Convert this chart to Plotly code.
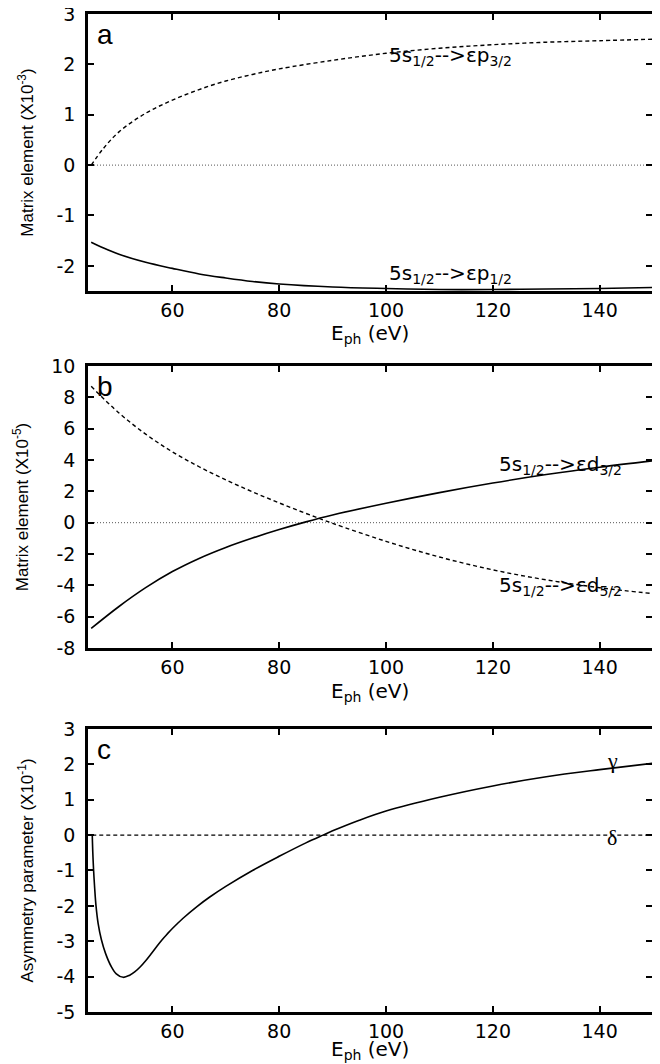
import plotly.graph_objects as go
from plotly.subplots import make_subplots

# ---------------- data ----------------
# Panel a: matrix elements (x10^-3)
a_x = [44.8, 47, 50, 55, 60, 65, 70, 75, 80, 90, 100, 110, 120, 130, 140, 150]
a_p32 = [0.0, 0.32, 0.66, 1.03, 1.29, 1.50, 1.67, 1.80, 1.91, 2.08, 2.22, 2.32, 2.39, 2.44, 2.47, 2.50]
a_p12 = [-1.53, -1.64, -1.77, -1.93, -2.05, -2.16, -2.24, -2.31, -2.36, -2.42, -2.45, -2.47, -2.47, -2.46, -2.45, -2.43]

# Panel b: matrix elements (x10^-5)
b_x = [44.8, 50, 55, 60, 65, 70, 75, 80, 85, 90, 100, 110, 120, 130, 140, 150]
b_d32 = [-6.75, -5.35, -4.15, -3.12, -2.28, -1.58, -0.98, -0.44, 0.05, 0.49, 1.24, 1.92, 2.53, 3.07, 3.54, 3.95]
b_d52 = [8.7, 7.0, 5.65, 4.52, 3.57, 2.73, 1.97, 1.26, 0.59, -0.04, -1.19, -2.19, -3.01, -3.65, -4.15, -4.53]

# Panel c: asymmetry parameters (x10^-1)
c_x = [45.0, 45.1, 45.25, 45.45, 45.7, 46.1, 46.7, 47.5, 48.5, 49.5, 50.8, 52, 53, 54, 55, 56, 57, 58, 59,
       60, 62, 64.6, 67, 70, 75, 80, 85, 88.2, 90, 95, 100, 110, 120, 130, 140, 150]
c_gamma = [0.0, -0.5, -1.0, -1.5, -2.0, -2.5, -2.95, -3.35, -3.7, -3.92, -4.02, -3.96, -3.86, -3.72, -3.55, -3.36, -3.16, -2.97, -2.8,
           -2.64, -2.35, -2.02, -1.75, -1.45, -1.0, -0.6, -0.22, 0.0, 0.12, 0.42, 0.68, 1.07, 1.39, 1.65, 1.85, 2.03]
c_delta_x = [45.0, 60, 80, 100, 120, 140, 150]
c_delta = [0.0, 0.0, 0.0, 0.0, 0.0, 0.0, 0.0]

zero_x = [44.2, 150]
zero_y = [0, 0]

x_ticks = [60, 80, 100, 120, 140]
a_yticks = [-2, -1, 0, 1, 2, 3]
b_yticks = [-8, -6, -4, -2, 0, 2, 4, 6, 8, 10]
c_yticks = [-5, -4, -3, -2, -1, 0, 1, 2, 3]

# ---------------- figure ----------------
fig = make_subplots(rows=3, cols=1)

solid = dict(color="black", width=1.6)
dashed = dict(color="black", width=1.4, dash="4px,3px")
dotted = dict(color="#555555", width=1, dash="1px,2px")

# panel a
fig.add_trace(go.Scatter(x=zero_x, y=zero_y, mode="lines", line=dotted), row=1, col=1)
fig.add_trace(go.Scatter(x=a_x, y=a_p32, mode="lines", line=dashed, line_shape="spline"), row=1, col=1)
fig.add_trace(go.Scatter(x=a_x, y=a_p12, mode="lines", line=solid, line_shape="spline"), row=1, col=1)
# panel b
fig.add_trace(go.Scatter(x=zero_x, y=zero_y, mode="lines", line=dotted), row=2, col=1)
fig.add_trace(go.Scatter(x=b_x, y=b_d52, mode="lines", line=dashed, line_shape="spline"), row=2, col=1)
fig.add_trace(go.Scatter(x=b_x, y=b_d32, mode="lines", line=solid, line_shape="spline"), row=2, col=1)
# panel c
fig.add_trace(go.Scatter(x=c_delta_x, y=c_delta, mode="lines", line=dashed), row=3, col=1)
fig.add_trace(go.Scatter(x=c_x, y=c_gamma, mode="lines", line=solid, line_shape="spline"), row=3, col=1)

tickfont = dict(family="DejaVu Sans", size=19, color="black")
axis_common = dict(showline=True, linecolor="black", linewidth=2.5, mirror="allticks",
                   ticks="inside", ticklen=6, tickwidth=2, tickcolor="black",
                   showgrid=False, zeroline=False, tickfont=tickfont, automargin=False,
                   ticklabeloverflow="allow")

domains = [[0.7224, 1.0], [0.3647, 0.6473], [0.0, 0.2836]]
yinfo = [
    ([-2.5, 3], a_yticks, "Matrix element (X10<sup>-3</sup>)"),
    ([-8, 10], b_yticks, "Matrix element (X10<sup>-5</sup>)"),
    ([-5, 3], c_yticks, "Asymmetry parameter (X10<sup>-1</sup>)"),
]
for i in range(3):
    xa = "xaxis" if i == 0 else f"xaxis{i+1}"
    ya = "yaxis" if i == 0 else f"yaxis{i+1}"
    fig.layout[xa].update(range=[44.2, 149.8], tickvals=x_ticks, ticktext=[str(v) for v in x_ticks],
                          domain=[0, 1], ticklabelstandoff=0, **axis_common)
    rng, tv, ttl = yinfo[i]
    fig.layout[ya].update(range=rng, tickvals=tv, ticktext=[str(v) for v in tv], domain=domains[i],
                          title=dict(text=ttl, font=dict(family="Liberation Sans", size=17, color="black"), standoff=19),
                          ticklabelstandoff=6, **axis_common)

label_font = dict(family="DejaVu Sans", size=20, color="black")
annotations = [
    dict(x=100.1, y=2.17, xref="x", yref="y", text="5s<sub>1/2</sub>-->εp<sub>3/2</sub>", xanchor="left", yanchor="middle", showarrow=False, font=label_font),
    dict(x=100.1, y=-2.17, xref="x", yref="y", text="5s<sub>1/2</sub>-->εp<sub>1/2</sub>", xanchor="left", yanchor="middle", showarrow=False, font=label_font),
    dict(x=120.8, y=3.68, xref="x2", yref="y2", text="5s<sub>1/2</sub>-->εd<sub>3/2</sub>", xanchor="left", yanchor="middle", showarrow=False, font=label_font),
    dict(x=120.8, y=-4.04, xref="x2", yref="y2", text="5s<sub>1/2</sub>-->εd<sub>5/2</sub>", xanchor="left", yanchor="middle", showarrow=False, font=label_font),
    dict(x=142.4, y=2.12, xref="x3", yref="y3", text="γ", xanchor="center", yanchor="middle", showarrow=False,
         font=dict(family="Liberation Serif", size=22, color="black")),
    dict(x=142.4, y=-0.08, xref="x3", yref="y3", text="δ", xanchor="center", yanchor="middle", showarrow=False,
         font=dict(family="Liberation Serif", size=22, color="black")),
]
letter_font = dict(family="Liberation Sans", size=28, color="black")
for letter, xr, yr in [("a", "x domain", "y domain"), ("b", "x2 domain", "y2 domain"), ("c", "x3 domain", "y3 domain")]:
    annotations.append(dict(x=0.012, y=0.99, xref=xr, yref=yr, text=letter, xanchor="left", yanchor="top",
                            showarrow=False, font=letter_font))

# x-axis titles (E_ph) placed below each panel
xtitle_font = dict(family="DejaVu Sans", size=20, color="black")
for yr, ypos in [("y domain", -43 / 277), ("y2 domain", -44 / 282), ("y3 domain", -38 / 283)]:
    annotations.append(dict(x=0.5, y=ypos, xref="x domain", yref=yr, text="E<sub>ph</sub> (eV)",
                            xanchor="center", yanchor="middle", showarrow=False, font=xtitle_font))

# The page adds an 8px body margin, so the figure is 8px smaller and margins shifted by 8px.
fig.update_layout(
    width=652, height=1056,
    margin=dict(l=80, r=8, t=6, b=52),
    paper_bgcolor="white", plot_bgcolor="white",
    showlegend=False,
    annotations=annotations,
)

fig.write_html("out.html")
